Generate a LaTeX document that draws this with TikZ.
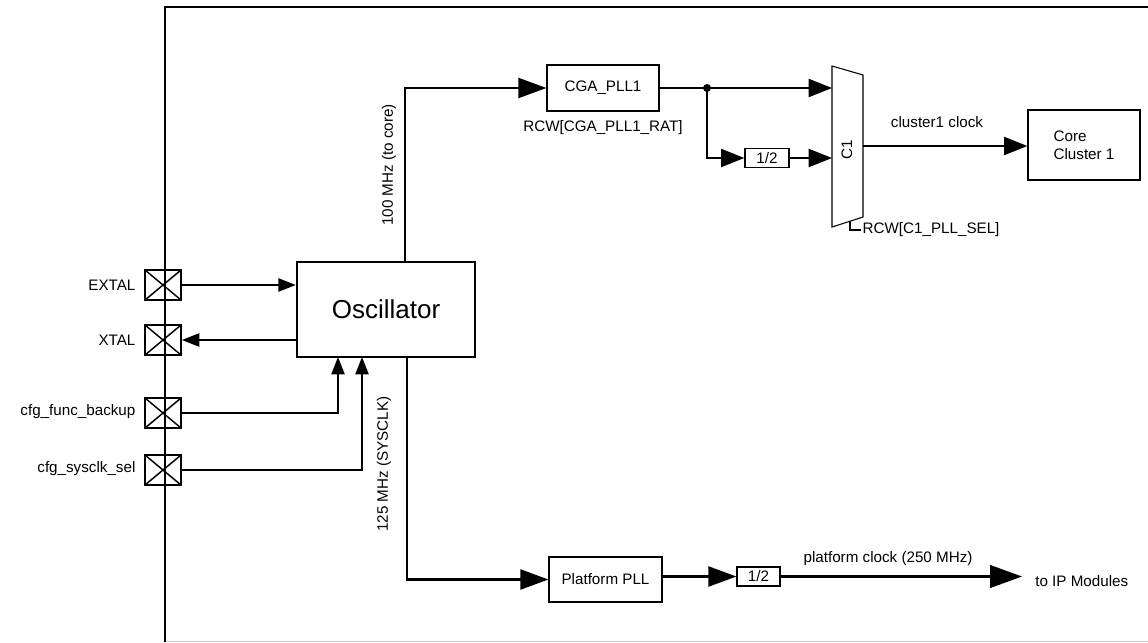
\documentclass[tikz,border=0pt]{standalone}
\usepackage{fontspec}
\setmainfont{Liberation Sans}
\usetikzlibrary{arrows.meta,calc}
\begin{document}
\begin{tikzpicture}[x=0.75pt,y=-0.75pt,
  lbl/.style={font=\fontsize{11.4}{13.5}\selectfont, inner sep=1pt},
  pad/.style={draw, line width=1.4pt, minimum width=27pt, minimum height=22.5pt, inner sep=0pt,
    path picture={\draw[line width=1.1pt] (path picture bounding box.north west) -- (path picture bounding box.south east)
      (path picture bounding box.north east) -- (path picture bounding box.south west);}},
  blk/.style={draw, line width=0.9pt, inner sep=0pt, font=\fontsize{11.4}{13.5}\selectfont},
  thinarr/.style={line width=1pt, -{Triangle[length=13pt,width=10pt]}},
  bigarr/.style={line width=1.6pt, -{Triangle[length=21pt,width=15pt]}},
  midarr/.style={line width=1.6pt, -{Triangle[length=17.5pt,width=13.5pt]}},
  wire/.style={line width=1.6pt}]
\useasboundingbox (0,0) rectangle (1148,642);
% frame
\draw[gray!40, line width=1pt] (165,641.5) -- (1148,641.5);
\draw[line width=2.2pt] (165,642) -- (165,7) -- (1148,7);
% pads
\node[pad] (pE) at (163,285) {};
\node[pad] (pX) at (163,340) {};
\node[pad] (pF) at (163,413) {};
\node[pad] (pS) at (163,470) {};
\node[lbl, anchor=east] (lE) at (137,285) {EXTAL};
\node[lbl, anchor=east] (lX) at (137,340) {XTAL};
\node[lbl, anchor=east] (lF) at (137,412) {cfg\_func\_backup};
\node[lbl, anchor=east] (lS) at (137,469) {cfg\_sysclk\_sel};
% oscillator
\node[draw, line width=1.9pt, minimum width=133.5pt, minimum height=71.25pt, inner sep=0pt,
  font=\fontsize{19.5}{22}\selectfont] (osc) at (386,309.5) {Oscillator};
\coordinate (cF) at (338,357);
\coordinate (cS) at (362,357);
\coordinate (oT) at (405,262);
\coordinate (oB) at (407,357);
\draw[thinarr] (pE.east) -- (pE.east -| osc.west);
\draw[thinarr] (pX.east -| osc.west) -- (pX.east);
\draw[thinarr] (pF.east) -| (cF);
\draw[thinarr] (pS.east) -| (cS);
% top path
\node[blk, minimum width=84pt, minimum height=34.5pt] (cga) at (603,88) {CGA\_PLL1};
\node[lbl] (rat) at (603,128) {RCW[CGA\_PLL1\_RAT]};
\draw[bigarr] (oT) |- (cga.west);
\node[lbl, rotate=90] (l100) at (389,165) {100 MHz (to core)};
% mux
\coordinate (m1) at (832,66);
\coordinate (m2) at (863,75);
\coordinate (m3) at (863,217);
\coordinate (m4) at (832,227);
\coordinate (mIn1) at (832,88);
\coordinate (mIn2) at (832,158);
\coordinate (mOut) at (863,146);
\coordinate (sel) at (850,221);
\draw[line width=0.8pt] (m1) -- (m2) -- (m3) -- (m4) -- cycle;
\node[lbl, rotate=90] (c1) at (847,150) {C1};
\coordinate (dot) at (707,88);
\draw[wire] (cga.east) -- (dot);
\fill (dot) circle (4);
\draw[midarr] (dot) -- (mIn1);
\node[blk, minimum width=33pt, minimum height=14.25pt] (h1) at (767,158) {1/2};
\draw[midarr] (dot) |- (h1.west);
\draw[midarr] (h1.east) -- (mIn2);
\node[blk, minimum width=84pt, minimum height=52.5pt, align=left] (core) at (1084,145) {Core\\Cluster 1};
\draw[midarr] (mOut) -- (mOut -| core.west);
\node[lbl] (lc1) at (937,122) {cluster1 clock};
\node[lbl, anchor=west] (rsel) at (861,230) {RCW[C1\_PLL\_SEL]};
\draw[line width=0.8pt] (sel) |- (rsel.west);
% bottom path
\node[blk, minimum width=84.75pt, minimum height=33.75pt] (ppll) at (605.5,579.5) {Platform PLL};
\node[lbl, rotate=90] (l125) at (384,464) {125 MHz (SYSCLK)};
\draw[bigarr] (oB) |- (ppll.west);
\node[blk, minimum width=32.25pt, minimum height=14.25pt] (h2) at (758.5,576.5) {1/2};
\draw[bigarr] (h2.west -| ppll.east) -- (h2.west);
\node[lbl, anchor=west, inner xsep=9.75pt] (ip) at (1022,581) {to IP Modules};
\draw[line width=1.6pt, -{Triangle[length=24pt,width=17pt]}] (h2.east) -- (h2.east -| ip.west);
\node[lbl] (lpc) at (888,559) {platform clock (250 MHz)};
\end{tikzpicture}
\end{document}
